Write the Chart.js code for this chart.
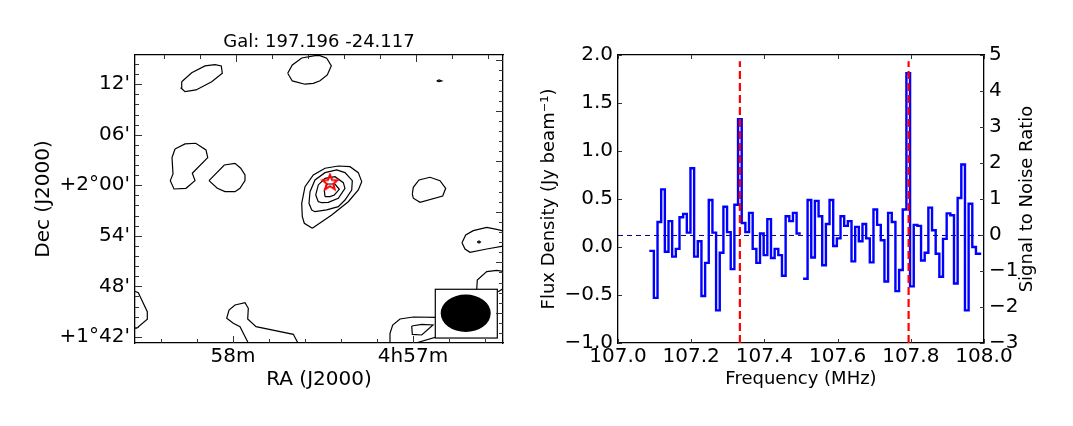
<!DOCTYPE html>
<html lang="en">
<head>
<meta charset="UTF-8">
<title>Gal: 197.196 -24.117</title>
<script src="https://cdn.jsdelivr.net/npm/chart.js"></script>
<style>
  html, body { margin: 0; background: #fff; }
  #wrap { position: relative; width: 1073px; height: 426px; overflow: hidden; }
  canvas { position: absolute; left: 0; top: 0; }
</style>
</head>
<body>
<div id="wrap">
  <canvas id="mapChart" width="1073" height="426"></canvas>
  <canvas id="specChart" width="1073" height="426"></canvas>
</div>
<script>
// left panel: x is RA seconds past 4h57m, y is Dec arcmin from +2d00'
const raMajor = [60, 0];
const raLabels = ['58m', '4h57m'];
const raMinor = [84, 72, 48, 36, 24, 12, -12, -24];
const raTopMajor = [58.9, -1.1];
const raTopMinor = [82.9, 70.9, 46.9, 34.9, 22.9, 10.9, -13.1, -25.1];
const decMajor = [12, 6, 0, -6, -12, -18];
const decLabels = ["12'", "06'", "+2°00'", "54'", "48'", "+1°42'"];
const decMinor = [14.4, 13.2, 10.8, 9.6, 8.4, 7.2, 4.8, 3.6, 2.4, 1.2, -1.2, -2.4, -3.6, -4.8,
  -7.2, -8.4, -9.6, -10.8, -13.2, -14.4, -15.6, -16.8];
const decRightMajor = [14.85, 8.85, 2.85, -3.15, -9.15, -15.15];
const decRightMinor = [13.65, 12.45, 11.25, 10.05, 7.65, 6.45, 5.25, 4.05, 1.65, 0.45, -0.75, -1.95,
  -4.35, -5.55, -6.75, -7.95, -10.35, -11.55, -12.75, -13.95, -16.35, -17.55];

const blobA = [[77.1,12.3],[73.77,13.37],[69.33,14.17],[66,14.32],[63.9,14.17],[63.57,13.3],[67.1,12.3],[72.33,11.32],[76,11.12],[77.23,11.52],[77.1,12.3]];
const blobB = [[41.77,13.3],[40.23,14.29],[37.1,15.12],[32.67,15.39],[31,15.39],[28.77,15.08],[27.23,14.2],[28.57,13.1],[31,12.42],[33.23,12.11],[36,12],[40.23,12.39],[41.77,13.3]];
const blobC = [[79.33,4.31],[76,4.91],[72.43,4.99],[69,4.19],[68.43,3.28],[73.57,1.43],[72.67,0.55],[75.67,-0.36],[79.67,-0.44],[80.9,0.55],[80,1.34],[80.33,3.28],[79.33,4.31]];
const blobD = [[68,0.55],[62.9,2.41],[59.33,2.61],[57.43,2.02],[56,1.22],[56,0.55],[57.67,-0.36],[59.33,-0.76],[62.67,-0.76],[65.23,-0.36],[68,0.55]];
const blobE = [[0.23,-1.03],[-0.1,-0.24],[-2,0.63],[-5.67,0.95],[-9,0.55],[-10.9,-0.36],[-9.9,-1.27],[-2.33,-2.02],[-0.1,-1.54],[0.23,-1.03]];
const blobF = [[-16.33,-6.82],[-17.57,-5.9],[-20.1,-5.39],[-24.57,-4.99],[-27.9,-5.23],[-31,-5.51],[-31,-7.17],[-24.57,-7.57],[-19,-7.96],[-17.33,-7.57],[-16.33,-6.82]];
const blobG = [[-21.23,-12.43],[-21.43,-11.25],[-24.57,-10.26],[-27.9,-10.1],[-31,-10.3],[-31,-12.08],[-28.33,-12.64]];
const blobH = [[7.77,-18.97],[7.67,-17.58],[6.77,-16.59],[4.33,-15.88],[-0.1,-15.64],[-8,-15.68],[-8,-18],[-0.67,-18.76],[0,-18.97]];
const blobH2 = [[0.43,-16.71],[-2.9,-16.51],[-6.67,-16.59],[-2.9,-17.78],[0.23,-17.7],[0.43,-16.71]];
const blobI = [[54.57,-18.97],[57.67,-16.79],[59.9,-16.39],[62.1,-15.8],[61.33,-14.81],[59.33,-14.22],[56,-13.94],[54.9,-14.61],[55.1,-15.88],[52.33,-16.79],[39.9,-17.7],[38,-18.97]];
const blobJ = [[93.33,-12.52],[91.57,-12.76],[89.9,-14.01],[88.57,-15.01],[88.57,-15.91],[92.1,-16.98],[93.33,-16.98]];
const dotK = [[-7.9,12.39],[-8.67,12.51],[-9.57,12.39],[-8.67,12.3],[-7.9,12.39]];
const dotL = [[-21.4,-6.73],[-22,-6.6],[-22.5,-6.73],[-22,-6.87],[-21.4,-6.73]];
const srcOuter = [[33.57,-5.11],[36.23,-4.51],[36.9,-3.73],[37.1,-2.14],[36,-0.17],[33.23,1.22],[29.33,2.02],[24.9,2.29],[21,2.21],[18.23,1.5],[17.1,0.43],[18.23,-0.56],[21.57,-1.95],[27.1,-3.53],[33.57,-5.11]];
const srcSecond = [[33.77,-2.93],[34.67,-2.14],[34.33,-0.76],[32.67,0.63],[29.33,1.5],[25.43,1.82],[22.67,1.5],[20.23,0.55],[20.43,-0.56],[22.67,-1.75],[24.9,-2.54],[28.77,-2.93],[32.67,-3.14],[33.77,-2.93]];
const srcThird = [[31.57,-1.95],[32.43,-1.15],[31.57,0.04],[29.33,0.83],[26,1.02],[23.23,0.31],[22.67,-0.36],[24.9,-1.54],[28.23,-2.02],[30.43,-2.07],[31.57,-1.95]];
const srcFourth = [[29.33,-1.35],[29.57,-0.56],[28.57,0.15],[26,0.15],[24.57,-0.48],[26.23,-1.15],[27.67,-1.35],[29.33,-1.35]];
const contours = [blobA, blobB, blobC, blobD, blobE, blobF, blobG, blobH, blobH2, blobI, blobJ, dotK, dotL,
  srcOuter, srcSecond, srcThird, srcFourth];
const starPos = [[27.67, 0.31]];

// beam inset: corners and ellipse, same units as the map
const insetBox = [-7.43, -28.1, -12.35, -18.14];
const beam = [-17.57, -15.2, 8.33, 2.22];

// right panel: left edge of each channel and its flux, null is the gap in the spectrum
const freqEdges = [107.0855,107.098,107.108,107.118,107.128,107.138,107.148,107.158,107.168,107.178,
  107.188,107.198,107.208,107.218,107.228,107.238,107.248,107.258,107.268,107.278,
  107.288,107.298,107.308,107.318,107.328,107.338,107.348,107.358,107.368,107.378,
  107.388,107.398,107.408,107.418,107.428,107.438,107.448,107.458,107.468,107.478,
  107.488,107.4993,107.5025,
  107.5057,107.518,107.528,107.538,107.548,107.558,107.568,107.578,107.588,107.598,
  107.608,107.618,107.628,107.638,107.648,107.658,107.668,107.678,107.688,107.698,
  107.708,107.718,107.728,107.738,107.748,107.758,107.768,107.778,107.788,107.798,
  107.808,107.818,107.828,107.838,107.848,107.858,107.868,107.878,107.888,107.898,
  107.908,107.918,107.928,107.938,107.948,107.958,107.968,107.978,107.9923];
const fluxDensity = [-0.04,-0.53,0.26,0.6,-0.05,0.27,-0.1,-0.02,0.31,0.345,
  0.15,0.82,-0.1,0.06,-0.51,-0.165,0.49,0.15,-0.66,-0.06,
  0.42,0.155,-0.23,0.44,1.33,0.25,0.155,0.355,-0.02,-0.165,
  0.14,-0.085,0.29,-0.115,-0.02,-0.085,-0.3,0.32,0.27,0.355,
  0.14,0.14,null,
  -0.33,0.49,-0.11,0.48,0.32,-0.19,0.24,0.49,0.01,0.09,
  0.32,0.22,0.27,-0.15,0.21,0.06,0.24,0.09,-0.16,0.39,
  0.23,0.07,-0.36,0.355,0.26,-0.46,-0.24,0.39,1.81,-0.41,
  0.23,0.22,-0.14,-0.06,0.41,0.175,-0.07,-0.31,0.085,0.35,
  0.33,-0.38,0.51,0.86,-0.66,0.45,0,-0.07,-0.07];
const lineFreqs = [107.333, 107.794];
const lineSpan = [-1, 1.935];
const freqSpan = [107, 108];
const meanFlux = 0.12;
const snrLabels = {5:'5', 4:'4', 3:'3', 2:'2', 1:'1', 0:'0', '-1':'−1', '-2':'−2', '-3':'−3'};

Chart.defaults.font.family = "'DejaVu Sans', sans-serif";
Chart.defaults.color = '#000';
Chart.defaults.animation = false;
Chart.defaults.responsive = false;
Chart.defaults.plugins.legend.display = false;
Chart.defaults.plugins.tooltip.enabled = false;

const noGrid = { display: false, drawTicks: false };
const spine = { color: '#000', width: 1.3 };

function setTicks(major, minor) {
  return function (scale) {
    scale.ticks = major.map(v => ({ value: v, major: true })).concat(minor.map(v => ({ value: v })));
  };
}

// matplotlib style ticks pointing into the plot
const inwardTicks = {
  id: 'inwardTicks',
  afterDraw(chart) {
    const ctx = chart.ctx, area = chart.chartArea;
    ctx.save();
    ctx.strokeStyle = '#333';
    ctx.lineWidth = 1;
    Object.values(chart.scales).forEach(scale => {
      scale.ticks.forEach(t => {
        const p = Math.round(scale.getPixelForValue(t.value)) + 0.5;
        const len = t.major ? 7 : 4;
        ctx.beginPath();
        if (scale.position === 'bottom') { ctx.moveTo(p, area.bottom); ctx.lineTo(p, area.bottom - len); }
        if (scale.position === 'top') { ctx.moveTo(p, area.top); ctx.lineTo(p, area.top + len); }
        if (scale.position === 'left') { ctx.moveTo(area.left, p); ctx.lineTo(area.left + len, p); }
        if (scale.position === 'right') { ctx.moveTo(area.right, p); ctx.lineTo(area.right - len, p); }
        ctx.stroke();
      });
    });
    ctx.restore();
  }
};

const beamInset = {
  id: 'beamInset',
  afterDatasetsDraw(chart) {
    const ctx = chart.ctx, x = chart.scales.x, y = chart.scales.y;
    const x0 = x.getPixelForValue(insetBox[0]), x1 = x.getPixelForValue(insetBox[1]);
    const y0 = y.getPixelForValue(insetBox[2]), y1 = y.getPixelForValue(insetBox[3]);
    ctx.save();
    ctx.fillStyle = '#fff';
    ctx.strokeStyle = '#000';
    ctx.lineWidth = 1.2;
    ctx.fillRect(x0, y0, x1 - x0, y1 - y0);
    ctx.strokeRect(x0, y0, x1 - x0, y1 - y0);
    ctx.fillStyle = '#000';
    ctx.beginPath();
    ctx.ellipse(x.getPixelForValue(beam[0]), y.getPixelForValue(beam[1]),
      Math.abs(x.getPixelForValue(beam[0] + beam[2]) - x.getPixelForValue(beam[0])),
      Math.abs(y.getPixelForValue(beam[1] + beam[3]) - y.getPixelForValue(beam[1])),
      0, 0, Math.PI * 2);
    ctx.fill();
    ctx.restore();
  }
};

// chart.js turns right hand axis titles the other way, so this one is drawn here
const snrTitle = {
  id: 'snrTitle',
  afterDraw(chart) {
    const ctx = chart.ctx, a = chart.chartArea;
    ctx.save();
    ctx.translate(1027, (a.top + a.bottom) / 2);
    ctx.rotate(-Math.PI / 2);
    ctx.font = "18px 'DejaVu Sans', sans-serif";
    ctx.fillStyle = '#000';
    ctx.textAlign = 'center';
    ctx.textBaseline = 'middle';
    ctx.fillText('Signal to Noise Ratio', 0, 0);
    ctx.restore();
  }
};

function starImage() {
  const c = document.createElement('canvas');
  c.width = 20; c.height = 20;
  const g = c.getContext('2d');
  g.strokeStyle = '#ff0000';
  g.lineWidth = 2;
  g.lineJoin = 'miter';
  g.beginPath();
  for (let i = 0; i < 10; i++) {
    const r = i % 2 ? 3.5 : 8;
    const a = -Math.PI / 2 + i * Math.PI / 5;
    g.lineTo(10 + r * Math.cos(a), 10 + r * Math.sin(a));
  }
  g.closePath();
  g.stroke();
  return c;
}

const raMin = -30, raMax = 92.67, decMin = -18.73, decMax = 15.47;

new Chart(document.getElementById('mapChart'), {
  type: 'scatter',
  data: {
    datasets: [{
      data: starPos,
      pointStyle: starImage(),
      pointRadius: 10,
      showLine: false
    }].concat(contours.map(c => ({
      data: c,
      showLine: true,
      borderColor: '#000',
      borderWidth: 1.2,
      tension: 0,
      pointRadius: 0
    })))
  },
  options: {
    layout: { padding: { right: 570 } },
    scales: {
      x: {
        type: 'linear', position: 'bottom', reverse: true, min: raMin, max: raMax,
        grid: noGrid, border: spine,
        afterBuildTicks: setTicks(raMajor, raMinor),
        afterFit(s) { s.height = 83; },
        ticks: {
          autoSkip: false, maxRotation: 0, padding: 2, font: { size: 20 },
          callback(v) { const i = raMajor.indexOf(v); return i < 0 ? '' : raLabels[i]; }
        },
        title: { display: true, text: 'RA (J2000)', font: { size: 20 }, padding: { bottom: 34, top: 0 } }
      },
      x2: {
        type: 'linear', position: 'top', reverse: true, min: raMin, max: raMax,
        grid: noGrid, border: spine,
        afterBuildTicks: setTicks(raTopMajor, raTopMinor),
        afterFit(s) { s.height = 55; },
        ticks: { display: false },
        title: { display: true, text: 'Gal: 197.196 -24.117', font: { size: 18 }, padding: { top: 32, bottom: 0 } }
      },
      y: {
        type: 'linear', position: 'left', min: decMin, max: decMax,
        grid: noGrid, border: spine,
        afterBuildTicks: setTicks(decMajor, decMinor),
        afterFit(s) { s.width = 135; },
        ticks: {
          autoSkip: false, padding: 5, font: { size: 20 },
          callback(v) { const i = decMajor.indexOf(v); return i < 0 ? '' : decLabels[i]; }
        },
        title: { display: true, text: 'Dec (J2000)', font: { size: 20 }, padding: { top: 32, bottom: 0 } }
      },
      y2: {
        type: 'linear', position: 'right', min: decMin, max: decMax,
        grid: noGrid, border: spine,
        afterBuildTicks: setTicks(decRightMajor, decRightMinor),
        afterFit(s) { s.width = 0; },
        ticks: { display: false }
      }
    }
  },
  plugins: [beamInset, inwardTicks]
});

function verticalLine(f) {
  return {
    data: [{ x: f, y: lineSpan[0] }, { x: f, y: lineSpan[1] }],
    showLine: true, borderColor: '#ff0000', borderWidth: 2.2, borderDash: [8, 4], pointRadius: 0
  };
}

new Chart(document.getElementById('specChart'), {
  type: 'scatter',
  data: {
    datasets: lineFreqs.map(verticalLine).concat([{
      data: freqEdges.map((f, i) => ({ x: f, y: fluxDensity[i] })),
      showLine: true,
      stepped: 'before',
      spanGaps: false,
      borderColor: '#0000ff',
      borderWidth: 2.4,
      borderJoinStyle: 'miter',
      pointRadius: 0
    }, {
      data: freqSpan.map(f => ({ x: f, y: meanFlux })),
      showLine: true,
      borderColor: '#000080',
      borderWidth: 1,
      borderDash: [5, 4],
      pointRadius: 0
    }])
  },
  options: {
    scales: {
      x: {
        type: 'linear', position: 'bottom', min: 107, max: 108,
        grid: noGrid, border: spine,
        afterFit(s) { s.height = 83; },
        ticks: { stepSize: 0.2, autoSkip: false, maxRotation: 0, padding: 2, font: { size: 20 }, callback: v => v.toFixed(1) },
        title: { display: true, text: 'Frequency (MHz)', font: { size: 18 }, padding: { bottom: 36, top: 0 } }
      },
      x2: {
        type: 'linear', position: 'top', min: 107, max: 108,
        grid: noGrid, border: spine,
        afterFit(s) { s.height = 55; },
        ticks: { stepSize: 0.2, display: false }
      },
      y: {
        type: 'linear', position: 'left', min: -1, max: 2,
        grid: noGrid, border: spine,
        afterFit(s) { s.width = 618; },
        ticks: { stepSize: 0.5, padding: 5, font: { size: 20 }, callback: v => v.toFixed(1).replace('-', '−') },
        title: { display: true, text: 'Flux Density (Jy beam⁻¹)', font: { size: 18 }, padding: { top: 539, bottom: 0 } }
      },
      y2: {
        type: 'linear', position: 'right', min: -3, max: 5,
        grid: noGrid, border: spine,
        afterFit(s) { s.width = 89; },
        ticks: { stepSize: 1, padding: 5, font: { size: 20 }, callback: v => snrLabels[v] }
      }
    }
  },
  plugins: [inwardTicks, snrTitle]
});
</script>
</body>
</html>
